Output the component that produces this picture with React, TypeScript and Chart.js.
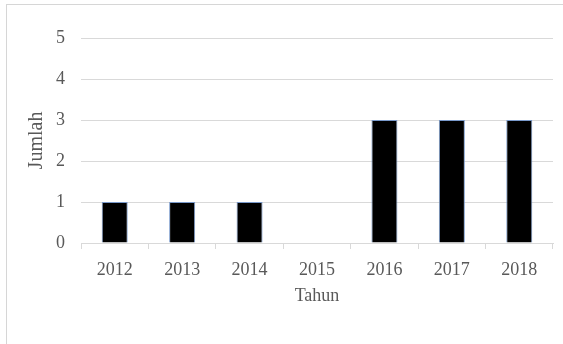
import React, { useEffect, useRef } from "react";
import { Chart, registerables } from "chart.js";

Chart.register(...registerables);

const categories = ["2012", "2013", "2014", "2015", "2016", "2017", "2018"];
const jumlahValues = [1, 1, 1, 0, 3, 3, 3];
const yTicks = [0, 1, 2, 3, 4, 5];
const xTitle = "Tahun";
const yTitle = "Jumlah";

export default function App() {
  const ref = useRef<HTMLCanvasElement | null>(null);

  useEffect(() => {
    if (!ref.current) return;
    const family = "'Liberation Serif', 'Times New Roman', serif";
    const font = { family, size: 18 };
    const chart = new Chart(ref.current, {
      type: "bar",
      data: {
        labels: categories,
        datasets: [
          {
            label: yTitle,
            data: jumlahValues,
            backgroundColor: "#000000",
            borderColor: "rgba(110,145,200,0.9)",
            borderWidth: 1,
            barPercentage: 0.386,
            categoryPercentage: 1,
          },
        ],
      },
      options: {
        responsive: false,
        animation: false,
        devicePixelRatio: 1,
        layout: { padding: { left: 25, right: 10, top: 38, bottom: 37 } },
        plugins: { legend: { display: false }, tooltip: { enabled: false } },
        scales: {
          x: {
            offset: true,
            grid: {
              offset: true,
              drawOnChartArea: false,
              drawTicks: true,
              tickLength: 6,
              color: "#d9d9d9",
            },
            border: { display: true, color: "#d9d9d9", width: 1 },
            ticks: { color: "#595959", font, padding: 10, maxRotation: 0 },
            title: {
              display: true,
              text: xTitle,
              color: "#595959",
              font,
              padding: { top: 0, bottom: 0 },
            },
            afterFit: (scale: any) => {
              scale.height = 64;
            },
          },
          y: {
            min: 0,
            max: 5,
            afterBuildTicks: (scale: any) => {
              scale.ticks = yTicks.map((v) => ({ value: v }));
            },
            grid: { color: "#d9d9d9", drawTicks: false, lineWidth: 1 },
            border: { display: false },
            ticks: { color: "#595959", font, padding: 16 },
            title: {
              display: true,
              text: yTitle,
              color: "#595959",
              font: { family, size: 20 },
              padding: 0,
            },
            afterFit: (scale: any) => {
              scale.width = 56;
            },
          },
        },
      },
    });
    return () => chart.destroy();
  }, []);

  return (
    <div style={{ position: "fixed", left: 0, top: 0, width: 563, height: 344, background: "#ffffff", overflow: "hidden" }}>
      <div
        style={{
          position: "absolute",
          left: 6,
          top: 4,
          width: 1000,
          height: 1000,
          border: "1px solid #d6d6d6",
        }}
      />
      <canvas ref={ref} width={563} height={344} style={{ position: "absolute", left: 0, top: 0, width: 563, height: 344 }} />
    </div>
  );
}
